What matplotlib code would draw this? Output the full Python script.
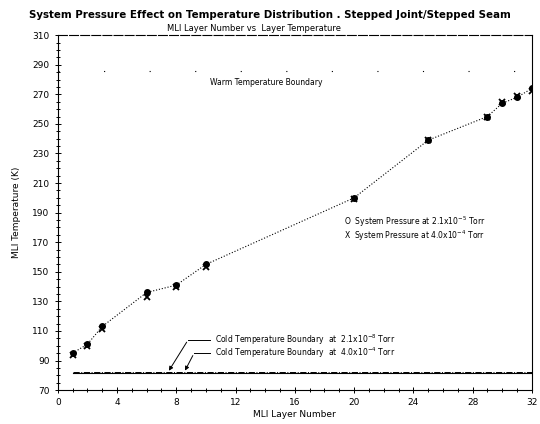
import matplotlib.pyplot as plt
from matplotlib.ticker import MultipleLocator

layers = [1, 2, 3, 6, 8, 10, 20, 25, 29, 30, 31, 32]
temp_p1 = [95, 101, 113, 136, 141, 155, 200, 239, 255, 264, 268, 274]
temp_p2 = [94, 100, 111, 133, 140, 153, 199, 239, 255, 265, 269, 272]
y_ticks = list(range(70, 311, 20))

warm_boundary = 286
cold_boundary = 81.5

fs = 6.5

fig = plt.figure(figsize=(5.4, 4.24), dpi=100)
ax = fig.add_axes([0.107, 0.08, 0.878, 0.837])

ax.plot(layers, temp_p1, color='black', linestyle=':', linewidth=0.8)
ax.plot(layers, temp_p1, 'o', color='black', markersize=4, markerfacecolor='black')
ax.plot(layers, temp_p2, 'x', color='black', markersize=4.5, markeredgewidth=1.3)

# boundaries
ax.axhline(warm_boundary, color='black', linestyle=(0, (1, 40)), linewidth=0.8)
ax.text(10.3, 278, 'Warm Temperature Boundary', fontsize=fs - 1, va='center')
ax.plot([1, 32], [cold_boundary, cold_boundary], color='black', linewidth=0.8)
ax.plot([1, 32], [cold_boundary + 0.4, cold_boundary + 0.4], color='black',
        linewidth=0.7, linestyle='-.')

# cold boundary annotations
ax.annotate('', xy=(7.4, cold_boundary), xytext=(8.8, 104),
            arrowprops=dict(arrowstyle='-|>', color='black', lw=0.7, mutation_scale=6))
ax.plot([8.8, 10.3], [104, 104], color='black', linewidth=0.7)
ax.text(10.6, 104, 'Cold Temperature Boundary  at  2.1x10$^{-8}$ Torr', fontsize=fs - 1, va='center')
ax.annotate('', xy=(8.5, cold_boundary), xytext=(9.2, 95),
            arrowprops=dict(arrowstyle='-|>', color='black', lw=0.7, mutation_scale=6))
ax.plot([9.2, 10.3], [95, 95], color='black', linewidth=0.7)
ax.text(10.6, 95, 'Cold Temperature Boundary  at  4.0x10$^{-4}$ Torr', fontsize=fs - 1, va='center')

# legend text
ax.text(19.3, 183.5, 'O  System Pressure at 2.1x10$^{-5}$ Torr', fontsize=fs - 1, va='center')
ax.text(19.3, 174.5, 'X  System Pressure at 4.0x10$^{-4}$ Torr', fontsize=fs - 1, va='center')

ax.set_xlim(0, 32)
ax.set_ylim(70, 310)
ax.xaxis.set_major_locator(MultipleLocator(4))
ax.xaxis.set_minor_locator(MultipleLocator(1))
ax.set_yticks(y_ticks)
ax.yaxis.set_minor_locator(MultipleLocator(5))
ax.tick_params(which='both', direction='inout', labelsize=fs, width=0.7)
ax.tick_params(which='major', length=5)
ax.tick_params(which='minor', length=3)
for s in ax.spines.values():
    s.set_linewidth(0.8)
ax.spines['top'].set_linestyle((0, (8, 2)))

ax.set_xlabel('MLI Layer Number', fontsize=fs, labelpad=2)
ax.set_ylabel('MLI Temperature (K)', fontsize=fs, labelpad=8)
fig.text(0.5, 0.965, 'System Pressure Effect on Temperature Distribution . Stepped Joint/Stepped Seam',
         fontsize=7.4, ha='center', va='center', fontweight='bold')
fig.text(0.47, 0.933, 'MLI Layer Number vs  Layer Temperature', fontsize=fs - 0.5,
         ha='center', va='center')

plt.savefig('out.png', dpi=100)
